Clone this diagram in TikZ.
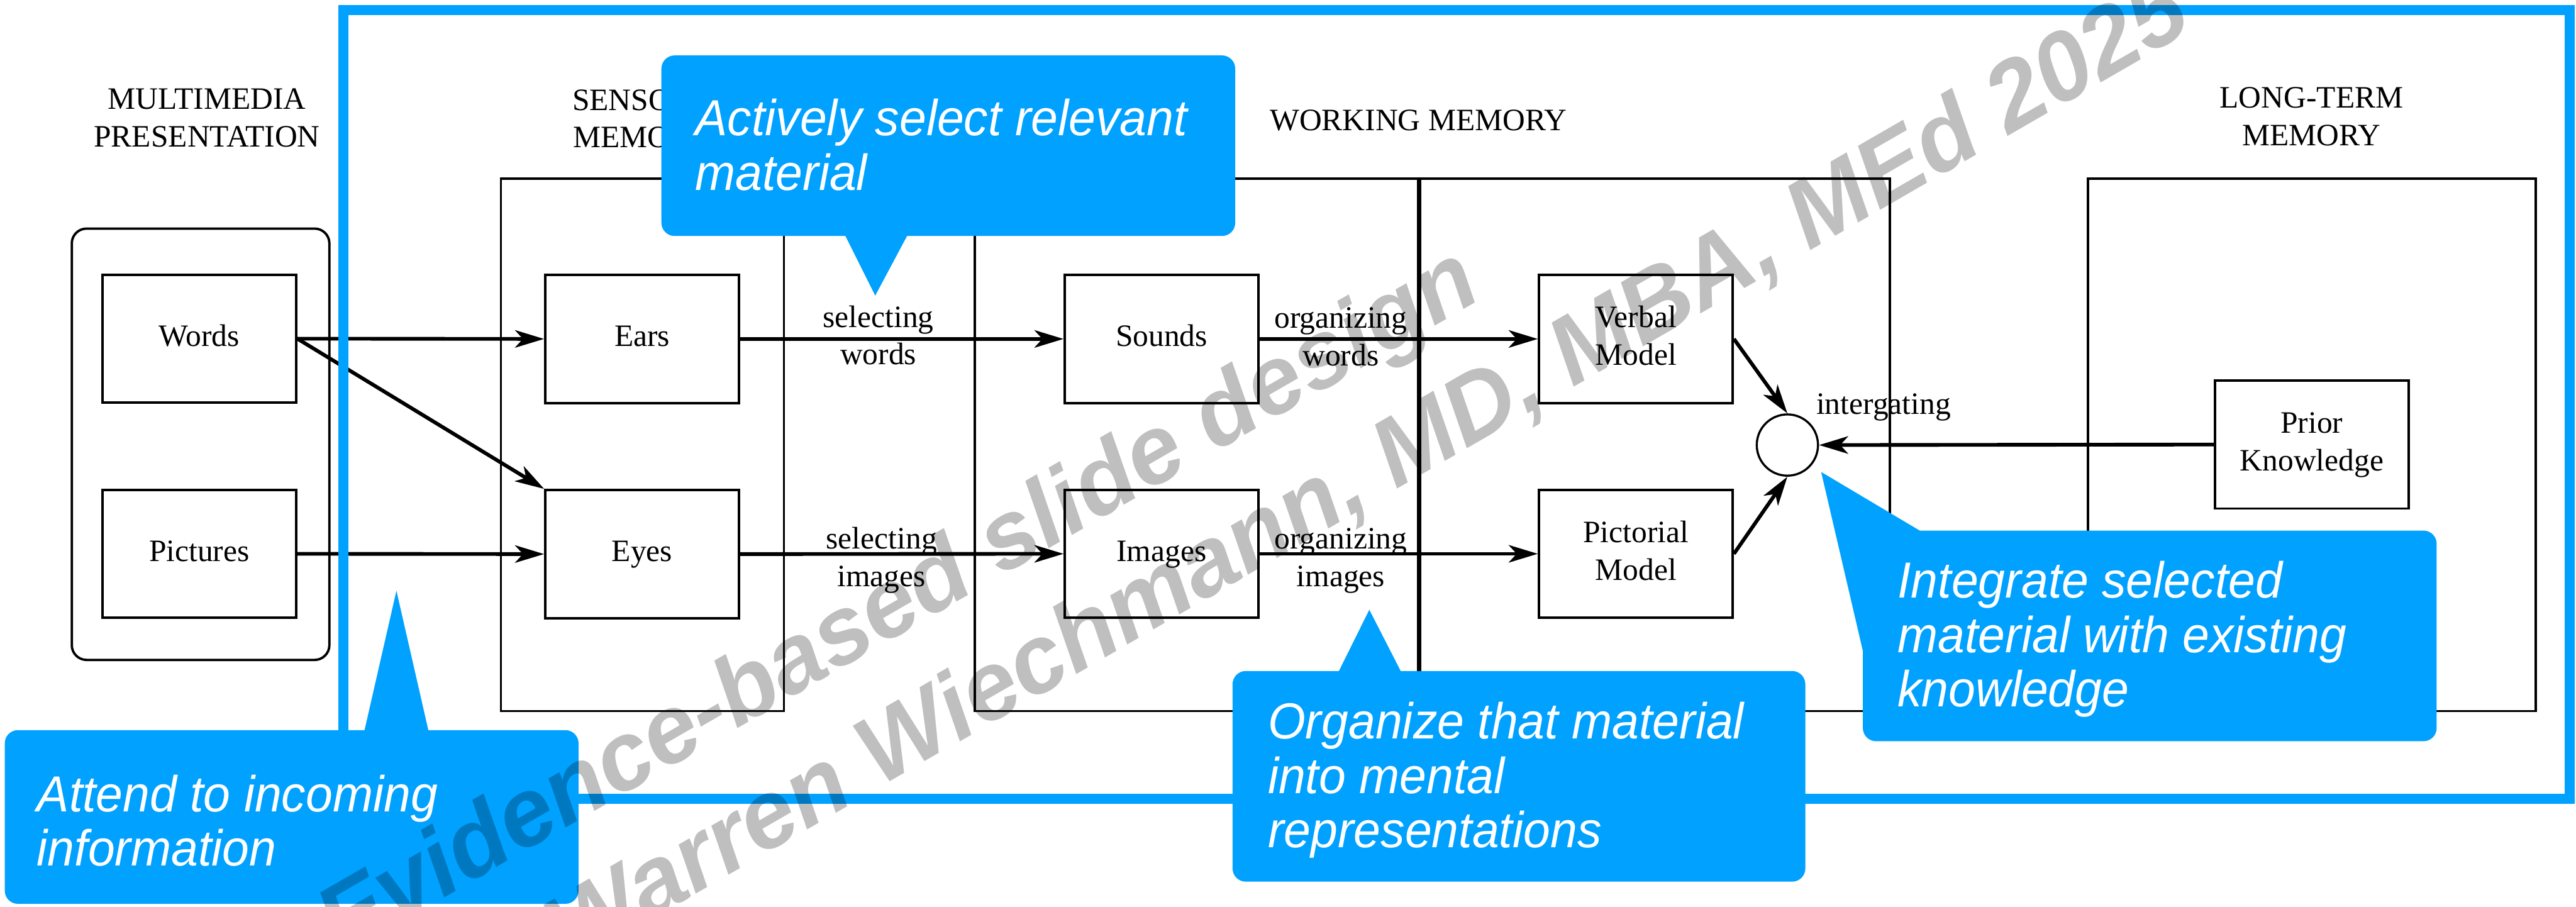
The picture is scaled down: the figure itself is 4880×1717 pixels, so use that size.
\documentclass[tikz,border=0pt]{standalone}
\usepackage{fontspec}
\setmainfont{Liberation Serif}
\newfontfamily\callfamily{Liberation Sans}[FakeStretch=0.955]
\newfontfamily\wmfamily{Liberation Sans}
\usetikzlibrary{arrows.meta}
\definecolor{callblue}{RGB}{0,161,255}
\newcommand\diafont{\fontsize{11.8}{14.2}\selectfont}
\newcommand\calltextfont{\callfamily\itshape\fontsize{19.2}{20.6}\selectfont}
\newcommand\wmtextfont{\wmfamily\bfseries\itshape\fontsize{36.6}{40}\selectfont}
\begin{document}
\begin{tikzpicture}[x=0.2pt,y=-0.2pt,
  diag/.style={font=\diafont, align=center, inner sep=0pt},
  box/.style={diag, draw, line width=0.9pt, minimum width=73.4pt, minimum height=48.5pt},
  region/.style={draw, line width=0.9pt},
  arr/.style={line width=1.4pt, -{Stealth[length=11pt,width=6.6pt,inset=3pt]}},
  callbody/.style={fill=callblue, rounded corners=5pt},
  calltip/.style={fill=callblue},
  calltext/.style={font=\calltextfont, text=white, align=left, inner sep=0pt, anchor=west},
  wmark/.style={font=\wmtextfont, text=black, text opacity=0.25, inner sep=0pt, anchor=base west, rotate=30}]
\useasboundingbox (0,0) rectangle (4880,1717);
\fill[white] (0,0) rectangle (4880,1717);

% regions
\draw[region, rounded corners=5.6pt] (136,433) rectangle (624,1250);
\draw[region] (949,338) rectangle (1485,1347);
\draw[region] (1847,338) rectangle (3580,1347);
\draw[line width=1.6pt] (2688,338) -- (2688,1347);
\draw[region] (3955,338) rectangle (4804,1347);

% headers
\node[diag] (hmm) at (392,228) {\strut MULTIMEDIA\\\strut PRESENTATION};
\node[diag] (hsm) at (1217,230) {\strut SENSORY\\\strut MEMORY};
\node[diag] (hwm) at (2687,233) {\strut WORKING MEMORY};
\node[diag] (hltm) at (4379,226) {\strut LONG-TERM\\\strut MEMORY};

% boxes
\node[box] (words) at (377.5,641.5) {\strut Words};
\node[box] (pictures) at (377.5,1049) {\strut Pictures};
\node[box] (ears) at (1216.5,642) {\strut Ears};
\node[box] (eyes) at (1216.5,1049.5) {\strut Eyes};
\node[box] (sounds) at (2200.5,642) {\strut Sounds};
\node[box] (images) at (2200.5,1049) {\strut Images};
\node[box] (verbal) at (3099,642) {\strut Verbal\\\strut Model};
\node[box] (pictorial) at (3099,1049) {\strut Pictorial\\\strut Model};
\node[box] (prior) at (4379.5,842) {\strut Prior\\\strut Knowledge};
\node[draw, circle, line width=0.8pt, minimum size=23.2pt, inner sep=0pt] (integ) at (3386,843) {};

% labels
\node[diag] (lsw) at (1664,641) {\strut selecting\\\strut words};
\node[diag] (lsi) at (1670,1061) {\strut selecting\\\strut images};
\node[diag] (low) at (2540,643) {\strut organizing\\\strut words};
\node[diag] (loi) at (2540,1061) {\strut organizing\\\strut images};
\node[diag, anchor=base west] (lint) at (3440,785) {intergating};

% arrows
\draw[arr] (words.east) -- (ears.west);
\draw[arr] (words.east) -- (eyes.north west);
\draw[arr] (pictures.east) -- (eyes.west);
\draw[arr] (ears.east) -- (sounds.west);
\draw[arr] (eyes.east) -- (images.west);
\draw[arr] (sounds.east) -- (verbal.west);
\draw[arr] (images.east) -- (pictorial.west);
\draw[arr] (verbal.east) -- (integ.north);
\draw[arr] (pictorial.east) -- (integ.south);
\draw[arr] (prior.west) -- (integ.east);

% blue frame
\draw[callblue, line width=3.8pt] (651,19) rectangle (4868,1513);

% callouts
\fill[callbody] (1253,105) rectangle (2340,447);
\fill[calltip] (1598,440) -- (1658,560) -- (1722,440) -- cycle;
\node[calltext] (c1) at (1316,288) {\strut Actively select relevant\\\strut material};

\fill[callbody] (3529,1005) rectangle (4616,1404);
\fill[calltip] (3450,894) -- (3645,1010) -- (3529,1233) -- cycle;
\node[calltext] (c2) at (3594,1215) {\strut Integrate selected\\\strut material with existing\\\strut knowledge};

\fill[callbody] (2335,1271) rectangle (3420,1670);
\fill[calltip] (2533,1278) -- (2594,1155) -- (2657,1278) -- cycle;
\node[calltext] (c3) at (2401,1482) {\strut Organize that material\\\strut into mental\\\strut representations};

\fill[callbody] (9,1383) rectangle (1096,1712);
\fill[calltip] (689,1390) -- (751,1119) -- (813,1390) -- cycle;
\node[calltext] (c4) at (69,1568) {\strut Attend to incoming\\\strut information};

% watermark
\node[wmark] (wm1) at (645,1814) {Evidence-based slide design};
\node[wmark] (wm2) at (1080,1831) {Warren Wiechmann, MD, MBA, MEd 2025};
\end{tikzpicture}
\end{document}
